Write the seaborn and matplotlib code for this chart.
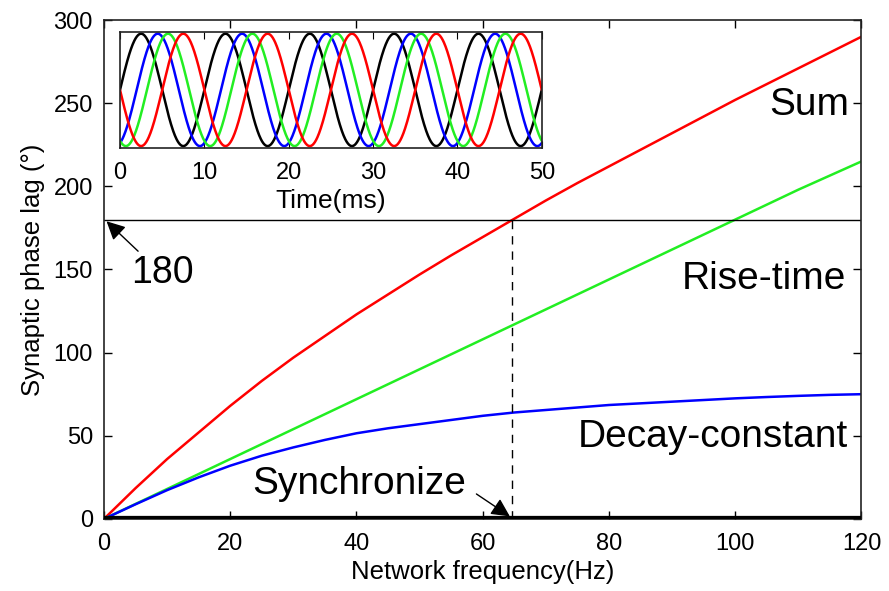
import numpy as np
import matplotlib.pyplot as plt
import seaborn as sns

# Значения
freq = [0, 5, 10, 15, 20, 25, 30, 35, 40, 45, 50, 55, 60, 65,
        70, 75, 80, 85, 90, 95, 100, 105, 110, 115, 120]
sum_lag = [0, 18.5, 36, 52, 68, 83, 97, 110, 123, 135, 147, 158.5, 169.5, 180.5,
           191.5, 202, 212, 222, 232, 242, 252, 261.5, 271, 280.5, 290]
rise_lag = [0, 9, 18, 27, 36, 45, 54, 63, 72, 81, 90, 99, 108, 117,
            126, 135, 144, 153, 162, 171, 180, 189, 198, 206.5, 215]
decay_lag = [0, 8.8, 17.3, 25, 32, 38, 43, 47.5, 51.5, 54.5, 57, 59.5, 62, 64,
             65.5, 67, 68.5, 69.5, 70.5, 71.5, 72.5, 73.3, 74, 74.6, 75]

# Вставка: период колебаний и сдвиги фаз (в градусах)
period_ms = 10.0
inset_lags = [0, 71, 115, 180]
inset_colors = ["black", "#0000ff", "#22ee22", "#ff0000"]

sync_freq = 64.7

sns.set_style("ticks")
plt.rcParams["font.family"] = ["Liberation Sans", "DejaVu Sans"]
plt.rcParams["text.color"] = "black"
plt.rcParams["axes.labelcolor"] = "black"
plt.rcParams["xtick.color"] = "black"
plt.rcParams["ytick.color"] = "black"

fig = plt.figure(figsize=(8.89, 5.91), dpi=100)
ax = fig.add_axes([0.117, 0.122, 0.852, 0.844])

sns.lineplot(x=freq, y=sum_lag, color="#ff0000", lw=1.8, ax=ax)
sns.lineplot(x=freq, y=rise_lag, color="#22ee22", lw=1.8, ax=ax)
sns.lineplot(x=freq, y=decay_lag, color="#0000ff", lw=1.8, ax=ax)

ax.axhline(180, color="black", lw=1)
ax.plot([sync_freq, sync_freq], [0, 180], color="black", lw=1, ls=(0, (6, 5)))
ax.plot([0, 120], [0, 0], color="black", lw=4.5, solid_capstyle="butt", zorder=5)

ax.set_xlim(0, 120)
ax.set_ylim(0, 300)
ax.set_xticks(range(0, 121, 20))
ax.set_yticks(range(0, 301, 50))
ax.tick_params(direction="in", length=6, width=1, top=True, right=True,
               labelsize=17)
ax.tick_params(axis="x", pad=10)
ax.tick_params(axis="y", pad=8)
for s in ax.spines.values():
    s.set_linewidth(1.2)
    s.set_color("#222222")
ax.set_xlabel("Network frequency(Hz)", fontsize=18.5, labelpad=4)
ax.set_ylabel("Synaptic phase lag (°)", fontsize=18.5, labelpad=6)

lab_kw = dict(fontsize=28, ha="right", va="center")
ax.text(118, 249, "Sum", **lab_kw)
ax.text(117.5, 144, "Rise-time", **lab_kw)
ax.text(117.8, 49, "Decay-constant", **lab_kw)

arrow = dict(arrowstyle="-|>", color="black", lw=1, mutation_scale=28,
             shrinkA=0, shrinkB=0)
ax.annotate("", xy=(0.4, 179), xytext=(5.4, 161), arrowprops=arrow)
ax.text(9.3, 148, "180", fontsize=27, ha="center", va="center")
ax.annotate("", xy=(64.3, 1.5), xytext=(59, 15), arrowprops=arrow)
ax.text(40.5, 21, "Synchronize", fontsize=28, ha="center", va="center")

# Вставка с синусоидами
ins = fig.add_axes([0.135, 0.750, 0.4744, 0.1958])
t = np.linspace(0, 50, 1001)
for lag, col in zip(inset_lags, inset_colors):
    y = np.sin(2 * np.pi * t / period_ms - np.deg2rad(lag))
    sns.lineplot(x=t, y=y, color=col, lw=1.8, ax=ins)
ins.set_xlim(0, 50)
ins.set_ylim(-1.03, 1.03)
ins.set_xticks(range(0, 51, 10))
ins.set_yticks([])
ins.tick_params(direction="in", length=5, top=True, labelsize=17, pad=10)
for s in ins.spines.values():
    s.set_linewidth(1.2)
    s.set_color("#222222")
ins.set_xlabel("Time(ms)", fontsize=19, labelpad=4)

fig.savefig("out.png", dpi=100)
